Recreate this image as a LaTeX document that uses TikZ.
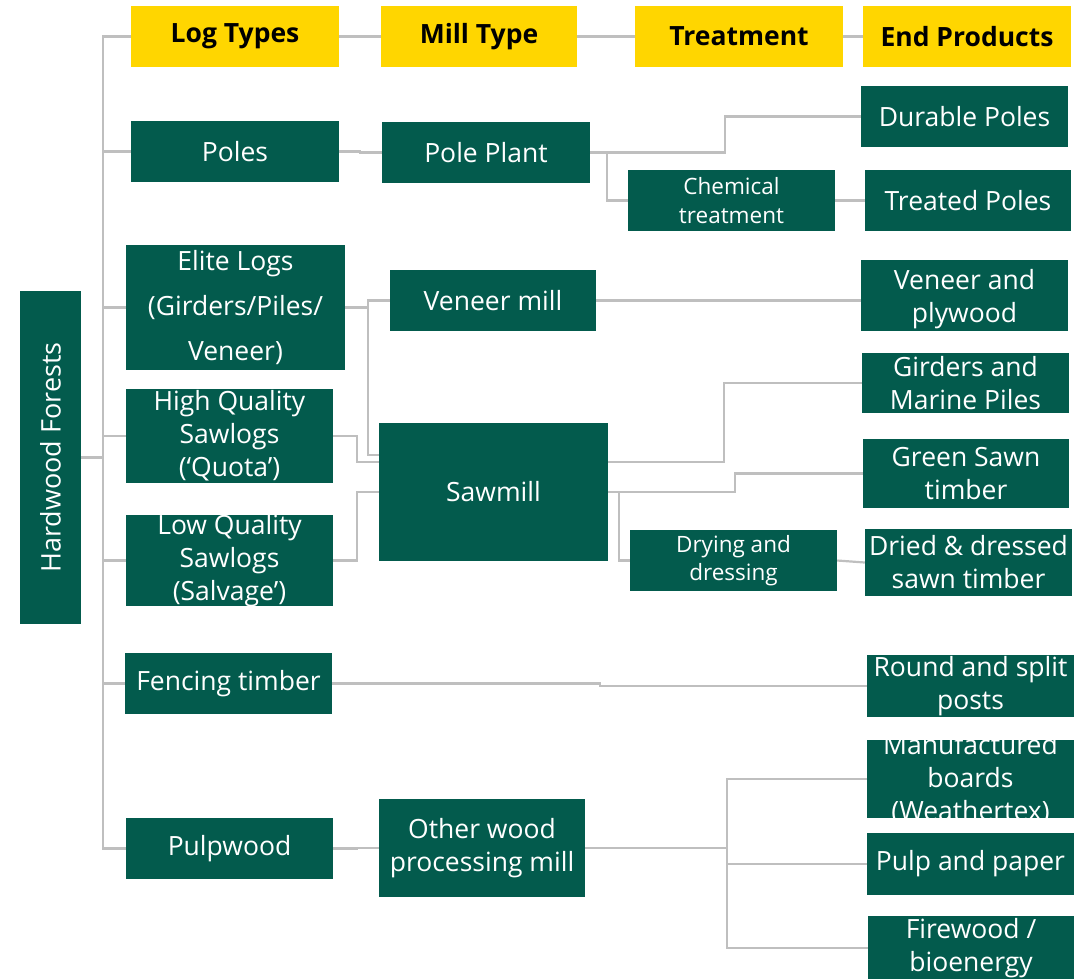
\documentclass[tikz,border=0pt]{standalone}
\usepackage{fontspec}
\setmainfont{Open Sans}
\usetikzlibrary{calc}
\definecolor{tgreen}{HTML}{035B4D}
\definecolor{tyellow}{HTML}{FFD600}
\definecolor{lgray}{HTML}{BFBFBF}
\tikzset{
  box/.style={fill=tgreen, inner sep=0pt},
  hdr/.style={fill=tyellow},
  txt/.style={text=white, inner sep=0pt, align=center, font=\fontsize{26.5}{33}\selectfont},
  htxt/.style={text=black, font=\fontsize{26.5}{30}\selectfont\bfseries},
  small/.style={font=\fontsize{22.5}{28.5}\selectfont},
  conn/.style={draw=lgray, line width=2.2pt},
}
% \bx[opts]{x1}{y1}{x2}{y2}{name}{text}
\newcommand\bx[7][]{\node[box,minimum width={(#4-#2)*1pt},minimum height={(#5-#3)*1pt},#1] (#6) at ({(#2+#4)/2},{(#3+#5)/2}) {};%
  \node[txt,#1] (#6t) at (#6.center) {#7};}
\begin{document}
\begin{tikzpicture}[x=1pt,y=-1pt]
\useasboundingbox (0,0) rectangle (1086,978);
% headers
\bx[hdr,htxt]{131}{6}{339}{67}{lt}{Log Types}
\bx[hdr,htxt]{381}{6}{577}{67}{mt}{Mill Type}
\bx[hdr,htxt]{635}{6}{843}{67}{tr}{Treatment}
\bx[hdr,htxt]{863}{6}{1071}{67}{ep}{End Products}
% root
\bx{20}{291}{81}{624}{hf}{}
\node[text=white, rotate=90, font=\fontsize{27}{30}\selectfont] (hft) at (hf.center) {Hardwood Forests};
% log types
\bx{131}{121}{339}{182}{po}{Poles}
\bx[font=\fontsize{26.5}{45}\selectfont]{126}{245}{345}{370}{el}{Elite Logs\\(Girders/Piles/\\Veneer)}
\bx{126}{389}{333}{483}{hq}{High Quality\\Sawlogs\\(‘Quota’)}
\bx{126}{515}{333}{606}{lq}{Low Quality\\Sawlogs\\(Salvage’)}
\bx{125}{653}{332}{714}{ft}{Fencing timber}
\bx{126}{818}{333}{879}{pw}{Pulpwood}
% mills
\bx{382}{122}{590}{183}{pp}{Pole Plant}
\bx{390}{270}{596}{331}{vm}{Veneer mill}
\bx{379}{423}{608}{561}{sm}{Sawmill}
\bx{379}{799}{585}{897}{ow}{Other wood\\processing mill}
% treatment
\bx[small]{628}{170}{835}{231}{ct}{Chemical\\treatment}
\bx[small]{630}{530}{837}{591}{dd}{Drying and\\dressing}
% end products
\bx{861}{86}{1068}{147}{dp}{Durable Poles}
\bx{865}{170}{1071}{231}{tp}{Treated Poles}
\node[box, minimum width=207pt, minimum height=71pt] (vp) at (964.5,295.5) {};
\node[txt] (vpt) at ([yshift=-4pt]vp.center) {Veneer and\\plywood};
\bx{862}{353}{1069}{413}{gm}{Girders and\\Marine Piles}
\bx{863}{439}{1069}{508}{gs}{Green Sawn\\timber}
\bx{865}{529}{1072}{596}{dr}{Dried \& dressed\\sawn timber}
\bx{867}{655}{1074}{717}{rs}{Round and split\\posts}
\bx{867}{740}{1074}{818}{mb}{Manufactured\\boards\\(Weathertex)}
\bx{867}{833}{1074}{895}{pa}{Pulp and paper}
\bx{868}{916}{1074}{980}{fw}{Firewood /\\bioenergy}
% connectors: headers
\draw[conn] (lt.east) -- (mt.west);
\draw[conn] (mt.east) -- (tr.west);
\draw[conn] (tr.east) -- (ep.west);
% root to log types
\foreach \t in {lt,po,el,hq,lq,ft,pw}
  \draw[conn] (hf.east) -- ++(22,0) |- (\t.west);
% log types to mills
\draw[conn] (po.east) -- ++(21,0) |- (pp.west);
\draw[conn] (el.east) -- ++(23,0) |- (vm.west);
\draw[conn] (el.east) -- ++(23,0) |- ([yshift=37pt]sm.west);
\draw[conn] (hq.east) -- ++(24,0) |- ([yshift=30pt]sm.west);
\draw[conn] (lq.east) -- ++(24,0) |- (sm.west);
\draw[conn] (pw.east) -- ++(24,0) |- (ow.west);
\draw[conn] (ft.east) -- ++(268,0) |- (rs.west);
% mills onward
\draw[conn] (pp.east) -- ++(135,0) |- (dp.west);
\draw[conn] (pp.east) -- ++(17,0) |- (ct.west);
\draw[conn] (ct.east) -- (tp.west);
\draw[conn] (vm.east) -- (vm.east -| vp.west);
\draw[conn] ([yshift=30pt]sm.east) -- ++(116,0) |- (gm.west);
\draw[conn] (sm.east) -- ++(127,0) |- (gs.west);
\draw[conn] (sm.east) -- ++(11,0) |- (dd.west);
\draw[conn] (dd.east) -- (dr.west);
\foreach \t in {mb,pa,fw}
  \draw[conn] (ow.east) -- ++(142,0) |- (\t.west);
\end{tikzpicture}
\end{document}
